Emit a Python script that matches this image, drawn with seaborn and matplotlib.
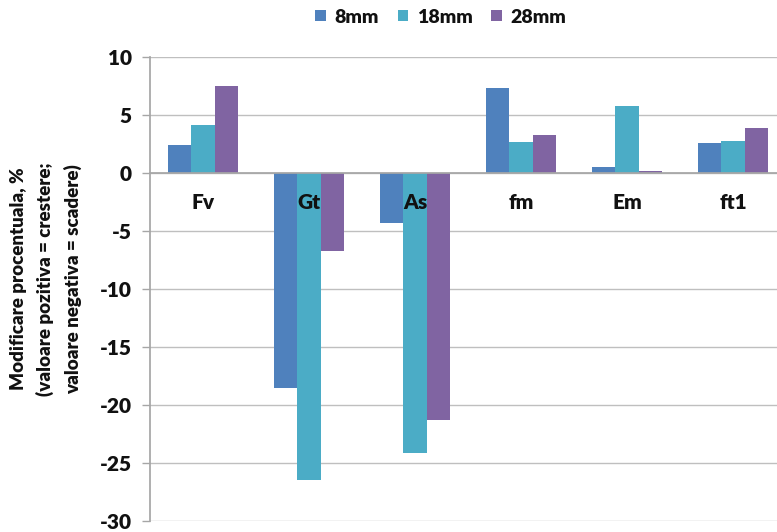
import matplotlib
matplotlib.use("Agg")
import matplotlib.pyplot as plt
import seaborn as sns
import pandas as pd
import numpy as np
from matplotlib.patches import Patch

categories = ["Fv", "Gt", "As", "fm", "Em", "ft1"]
series_names = ["8mm", "18mm", "28mm"]
vals_8mm = [2.4, -18.5, -4.3, 7.3, 0.5, 2.6]
vals_18mm = [4.1, -26.5, -24.1, 2.7, 5.8, 2.8]
vals_28mm = [7.5, -6.7, -21.3, 3.3, 0.2, 3.9]
yticks = [10, 5, 0, -5, -10, -15, -20, -25, -30]
colors = ["#4F81BD", "#4BACC6", "#8064A2"]

rows = []
for name, vals in zip(series_names, [vals_8mm, vals_18mm, vals_28mm]):
    for c, v in zip(categories, vals):
        rows.append({"cat": c, "series": name, "value": v})
df = pd.DataFrame(rows)

sns.set_theme(style="white")
plt.rcParams['font.family'] = ['Lato', 'DejaVu Sans']

fig = plt.figure(figsize=(7.77, 5.32), dpi=100)
W, H = 777, 532
ax = fig.add_axes([150 / W, 1 - 521 / H, (786 - 150) / W, (521 - 57) / H])

sns.barplot(data=df, x="cat", y="value", hue="series", order=categories,
            hue_order=series_names, palette=colors, width=0.66, ax=ax,
            saturation=1, legend=False, linewidth=0)

txtcol = '#111111'
ax.set_ylim(-30, 10)
ax.set_xlim(-0.5, len(categories) - 0.5)
ax.set_yticks(yticks)
ax.set_yticklabels([str(t) for t in yticks], fontsize=15, fontweight='heavy', color=txtcol)
ax.yaxis.grid(True, color='#BFBFBF', linewidth=1.0)
ax.set_axisbelow(True)

for s in ["top", "right"]:
    ax.spines[s].set_visible(False)
ax.spines["left"].set_color('#A6A6A6')
ax.spines["bottom"].set_color('#A6A6A6')
ax.spines["bottom"].set_position(('data', 0))

ax.set_xticks(range(len(categories)))
ax.set_xticklabels([""] * len(categories))
ax.tick_params(axis='x', which='major', length=0)
ax.set_xticks(np.arange(0.5, len(categories) - 0.5, 1.0), minor=True)
ax.tick_params(axis='x', which='minor', length=5, direction='out', color='#A6A6A6', width=1)
ax.tick_params(axis='y', which='major', length=6, direction='out', color='#A6A6A6', width=1, left=True, pad=7)
ax.set_xlabel("")

for i, c in enumerate(categories):
    ax.annotate(c, xy=(i, 0), xytext=(0, -29), textcoords='offset pixels',
                ha='center', va='center', fontsize=15, fontweight='heavy', color=txtcol,
                zorder=10)

ax.set_ylabel("Modificare procentuala, %\n(valoare pozitiva = crestere;\nvaloare negativa = scadere)",
              fontsize=13.5, fontweight='heavy', color=txtcol, linespacing=1.6)
ax.yaxis.set_label_coords(-104 / (786 - 150), (521 - 279) / (521 - 57))
ax.yaxis.label.set_va('center')

handles = [Patch(facecolor=c, edgecolor='none') for c in colors]
leg = fig.legend(handles, series_names, loc='center', bbox_to_anchor=(441 / W, 1 - 17 / H),
                 ncol=3, frameon=False, prop={'weight': 'heavy', 'size': 14},
                 handlelength=0.55, handleheight=0.55, handletextpad=0.45, columnspacing=0.95)
for t in leg.get_texts():
    t.set_color(txtcol)

fig.savefig("out.png", dpi=100)
